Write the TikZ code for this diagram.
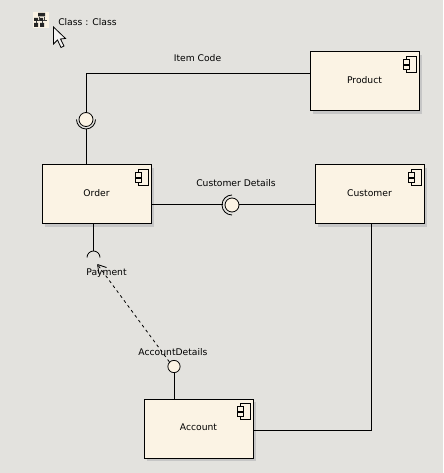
\documentclass[tikz,border=0pt]{standalone}
\usepackage{fontspec}
\setmainfont{DejaVu Sans}
\usetikzlibrary{arrows.meta}
\definecolor{bgc}{HTML}{E3E2DE}
\definecolor{boxc}{HTML}{FBF3E4}
\definecolor{shc}{HTML}{C6C6C6}
\tikzset{
  comp/.style={draw=black,line width=0.75pt,fill=boxc,minimum width=81.75pt,minimum height=44.25pt,inner sep=0pt,font=\fontsize{6.9pt}{8pt}\selectfont,
    preaction={draw=none,fill=shc,transform canvas={xshift=2.6pt,yshift=-2.6pt}}},
  lbl/.style={inner sep=0pt,font=\fontsize{6.9pt}{8pt}\selectfont},
  conn/.style={draw=black,line width=0.75pt},
  thin1/.style={draw=black,line width=0.6pt},
  lolli/.style={circle,draw=black,line width=0.6pt,fill=boxc,inner sep=0pt},
  pts/.style={x=0.75pt,y=-0.75pt}
}
\newcommand{\compicon}[1]{%
  \begin{scope}[shift={(#1)},thin1,pts]
    \draw (-13,-8) rectangle (-3.5,8);
    \draw[fill=boxc] (-16.5,-5) rectangle (-10.5,-0.5);
    \draw[fill=boxc] (-16.5,0.5) rectangle (-10.5,5);
  \end{scope}}
\begin{document}
\begin{tikzpicture}[pts]
\useasboundingbox (0,0) rectangle (443,473);
\fill[bgc] (0,0) rectangle (443,473);
% boxes
\node[comp] (product) at (364.5,81.5) {\raisebox{1.5pt}{Product}};
\node[comp] (order) at (96.5,194.5) {\raisebox{1.5pt}{Order}};
\node[comp] (customer) at (369.5,194.5) {\raisebox{1.5pt}{Customer}};
\node[comp] (account) at (198.5,428.5) {\raisebox{1.5pt}{Account}};
\path (product.north east) ++(0,13) coordinate (pi);
\compicon{pi}
\path (order.north east) ++(0,13) coordinate (oi);
\compicon{oi}
\path (customer.north east) ++(0,13) coordinate (ci);
\compicon{ci}
\path (account.north east) ++(0,13) coordinate (ai);
\compicon{ai}
% item code interface
\node[lolli,minimum size=10.5pt] (itemc) at (86,119.5) {};
\draw[thin1] (itemc.center) ++(-9.5,0) arc[start angle=180,end angle=0,radius=9.5];
\coordinate (pl) at (product.west |- 0,74);
\coordinate (ob) at (order.north -| itemc);
\draw[conn] (pl) -- (itemc.north |- pl) -- (itemc.north);
\draw[conn] (itemc.south) ++(0,2.5) -- (ob);
% customer details interface
\node[lolli,minimum size=10.5pt] (custc) at (232,205) {};
\draw[thin1] (custc.center) ++(0,-10) arc[start angle=270,end angle=90,radius=10];
\coordinate (ol) at (order.east |- custc);
\coordinate (cl) at (customer.west |- custc);
\draw[conn] (ol) -- ++(71,0);
\draw[conn] (custc.east) -- (cl);
% payment socket
\coordinate (sockb) at (93.5,251);
\coordinate (ord2) at (order.south -| sockb);
\draw[conn] (ord2) -- (sockb);
\draw[thin1] (87,257.5) arc[start angle=180,end angle=360,radius=6.5];
\node[lbl] (pay) at (106.5,273) {Payment};
% account interface
\node[lolli,minimum size=9.2pt] (accc) at (174,366.5) {};
\node[lbl] (accl) at (173,352.5) {AccountDetails};
\coordinate (at) at (account.north -| accc);
\draw[conn] (accc.south) -- (at);
% dependency
\coordinate (tip) at (97.5,264.5);
\draw[thin1,dash pattern=on 2.2pt off 2.4pt] (accc.north west) -- (tip);
\draw[thin1] (tip) -- ++(1.5,9) (tip) -- ++(9,3);
% customer to account
\coordinate (cb) at (customer.south -| 371,0);
\coordinate (ar) at (account.east |- 0,430);
\draw[conn] (cb) -- (371,430) -- (ar);
% item labels
\node[lbl] (itemt) at (197.5,58) {Item Code};
\node[lbl] (custt) at (236,183) {Customer Details};
% top legend
\node[lbl,anchor=west] (cls) at (58,22.5) {Class : Class};
\fill[boxc] (33,12) rectangle (49,28);
\draw[line width=0.45pt,black!75] (39,17) -- (39,20) (44,17) -- (44,20) (36,20.5) -- (47,20.5) (36,20.5) -- (36,23) (42,20.5) -- (42,23);
\fill[black!85] (38,13) rectangle (45,16.5) (34,18) rectangle (38,21) (40,18) rectangle (43,21) (34,23) rectangle (38,27) (40,23) rectangle (44,27);
% cursor
\draw[black,line width=0.6pt,fill=bgc!40!white,line join=miter]
  (53.5,27) -- (53.5,44) -- (57.5,40) -- (61,47.5) -- (64,46) -- (60.5,39) -- (65.5,38.5) -- cycle;
\end{tikzpicture}
\end{document}
